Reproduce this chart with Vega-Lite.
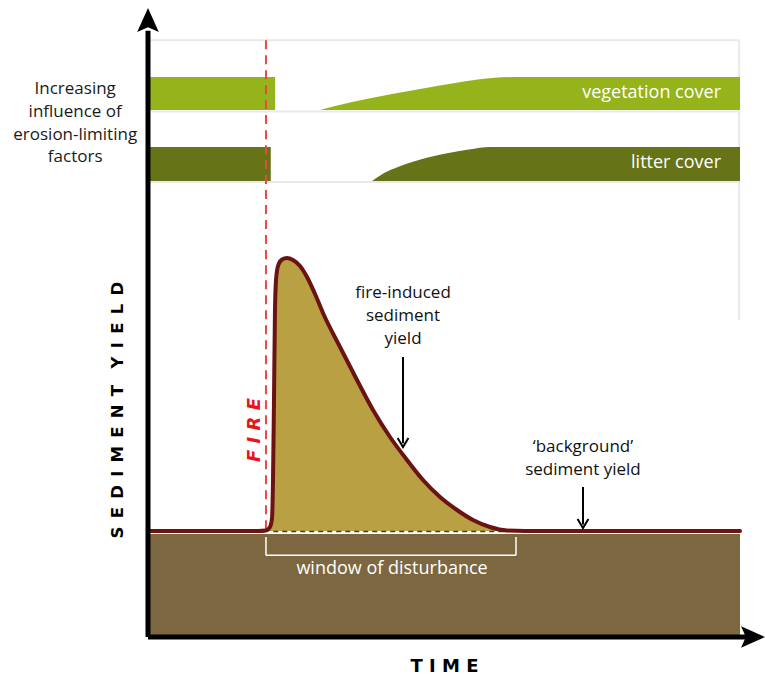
{
  "$schema": "https://vega.github.io/schema/vega-lite/v6.json",
  "width": 617,
  "height": 625,
  "autosize": {"type": "none"},
  "padding": {"left": 148, "top": 12, "right": 0, "bottom": 40},
  "background": "white",
  "config": {"view": {"stroke": null}},
  "datasets": {
    "curve": [
      {"t": 0, "v": 16.96}, {"t": 17.83, "v": 16.96}, {"t": 19.12, "v": 17.04}, {"t": 19.77, "v": 17.6},
      {"t": 20.1, "v": 19.04}, {"t": 20.26, "v": 25.12}, {"t": 20.42, "v": 37.92}, {"t": 20.58, "v": 52.32},
      {"t": 20.75, "v": 57.12}, {"t": 21.07, "v": 59.36}, {"t": 21.72, "v": 60.4}, {"t": 22.53, "v": 60.64},
      {"t": 23.5, "v": 60.32}, {"t": 24.64, "v": 59.36}, {"t": 25.77, "v": 57.6}, {"t": 27.07, "v": 54.88},
      {"t": 28.36, "v": 51.84}, {"t": 31.12, "v": 46.4}, {"t": 33.87, "v": 41.12}, {"t": 36.47, "v": 36.32},
      {"t": 39.22, "v": 32.0}, {"t": 41.98, "v": 28.32}, {"t": 44.57, "v": 25.12}, {"t": 47.33, "v": 22.4},
      {"t": 50.08, "v": 20.32}, {"t": 52.67, "v": 18.72}, {"t": 55.43, "v": 17.6}, {"t": 58.18, "v": 17.04},
      {"t": 61.1, "v": 16.96}, {"t": 95.95, "v": 16.96}
    ],
    "veg": [
      {"seg": "pre", "t": 0, "v": 89.6}, {"seg": "pre", "t": 20.6, "v": 89.6},
      {"seg": "post", "t": 27.9, "v": 84.32}, {"seg": "post", "t": 30.5, "v": 85.0}, {"seg": "post", "t": 35.0, "v": 86.0},
      {"seg": "post", "t": 44.1, "v": 87.7}, {"seg": "post", "t": 50.0, "v": 88.7}, {"seg": "post", "t": 55.8, "v": 89.45},
      {"seg": "post", "t": 60.0, "v": 89.6}, {"seg": "post", "t": 95.95, "v": 89.6}
    ],
    "litter": [
      {"seg": "pre", "t": 0, "v": 78.4}, {"seg": "pre", "t": 19.9, "v": 78.4},
      {"seg": "post", "t": 36.3, "v": 72.96}, {"seg": "post", "t": 38.2, "v": 74.2}, {"seg": "post", "t": 40.5, "v": 75.2},
      {"seg": "post", "t": 44.3, "v": 76.45}, {"seg": "post", "t": 48.5, "v": 77.4}, {"seg": "post", "t": 52.0, "v": 78.0},
      {"seg": "post", "t": 55.5, "v": 78.4}, {"seg": "post", "t": 95.95, "v": 78.4}
    ]
  },
  "encoding": {
    "x": {"field": "t", "type": "quantitative", "scale": {"domain": [0, 100], "nice": false, "zero": false}, "axis": null},
    "y": {"field": "v", "type": "quantitative", "scale": {"domain": [0, 100], "nice": false, "zero": false}, "axis": null}
  },
  "layer": [
    {
      "data": {"values": [
        {"t": 0.3, "t2": 95.8, "v": 95.5, "v2": 95.5},
        {"t": 95.8, "t2": 95.8, "v": 95.5, "v2": 50.7},
        {"t": 0.3, "t2": 95.8, "v": 84.1, "v2": 84.1},
        {"t": 0.3, "t2": 95.8, "v": 72.8, "v2": 72.8}
      ]},
      "mark": {"type": "rule", "color": "#e9e9e9", "strokeWidth": 2},
      "encoding": {"x2": {"field": "t2"}, "y2": {"field": "v2"}}
    },
    {
      "data": {"name": "veg"},
      "mark": {"type": "area", "color": "#95b31b", "interpolate": "monotone"},
      "encoding": {"detail": {"field": "seg"}, "y2": {"datum": 84.32}}
    },
    {
      "data": {"name": "litter"},
      "mark": {"type": "area", "color": "#667316", "interpolate": "monotone"},
      "encoding": {"detail": {"field": "seg"}, "y2": {"datum": 72.96}}
    },
    {
      "data": {"values": [{"t": 0, "t2": 95.95, "v": 0, "v2": 16.5}]},
      "mark": {"type": "rect", "color": "#7c6741"},
      "encoding": {"x2": {"field": "t2"}, "y2": {"field": "v2"}}
    },
    {
      "data": {"name": "curve"},
      "mark": {"type": "area", "color": "#b9a043", "interpolate": "monotone"},
      "encoding": {"y2": {"datum": 16.96}}
    },
    {
      "data": {"values": [{"t": 20.3, "t2": 57.5, "v": 16.9}]},
      "mark": {"type": "rule", "color": "#4a3a20", "strokeDash": [5, 4], "strokeWidth": 1.5},
      "encoding": {"x2": {"field": "t2"}}
    },
    {
      "data": {"values": [{"t": 19.12, "v": 95.5, "v2": 17.1}]},
      "mark": {"type": "rule", "color": "#e84a3f", "strokeDash": [9, 6], "strokeWidth": 2},
      "encoding": {"y2": {"field": "v2"}}
    },
    {
      "data": {"name": "curve"},
      "mark": {"type": "line", "color": "#6b1212", "strokeWidth": 4, "interpolate": "monotone", "strokeJoin": "round", "strokeCap": "round"},
      "encoding": {}
    },
    {
      "data": {"values": [
        {"t": 19.12, "t2": 19.12, "v": 16.0, "v2": 13.1},
        {"t": 59.64, "t2": 59.64, "v": 16.0, "v2": 13.1},
        {"t": 19.12, "t2": 59.64, "v": 13.1, "v2": 13.1}
      ]},
      "mark": {"type": "rule", "color": "white", "strokeWidth": 1.5},
      "encoding": {"x2": {"field": "t2"}, "y2": {"field": "v2"}}
    },
    {
      "data": {"values": [{"t": 41.33, "v": 44.8, "v2": 31.0}, {"t": 70.5, "v": 24.0, "v2": 18.0}]},
      "mark": {"type": "rule", "color": "black", "strokeWidth": 2},
      "encoding": {"y2": {"field": "v2"}}
    },
    {
      "data": {"values": [{"t": 41.33, "v": 30.4}, {"t": 70.5, "v": 17.44}]},
      "mark": {"type": "point", "shape": "M-0.6,-1L0,0L0.6,-1", "filled": false, "color": "black", "strokeWidth": 2, "size": 324, "opacity": 1}
    },
    {
      "data": {"values": [{"t": 0, "t2": 0, "v": 0, "v2": 97.0}, {"t": 0, "t2": 97.9, "v": 0, "v2": 0}]},
      "mark": {"type": "rule", "color": "black", "strokeWidth": 5},
      "encoding": {"x2": {"field": "t2"}, "y2": {"field": "v2"}}
    },
    {
      "data": {"values": [{"t": 0, "v": 98.72}]},
      "mark": {"type": "point", "shape": "M0,-1L0.9,1L0,0.6L-0.9,1Z", "filled": true, "color": "black", "strokeWidth": 0, "size": 576, "opacity": 1}
    },
    {
      "data": {"values": [{"t": 98.06, "v": 0}]},
      "mark": {"type": "point", "shape": "M1,0L-1,0.9L-0.6,0L-1,-0.9Z", "filled": true, "color": "black", "strokeWidth": 0, "size": 576, "opacity": 1}
    },
    {
      "data": {"values": [
        {"t": -11.8, "v": 87.68, "label": "Increasing"},
        {"t": -11.8, "v": 84.08, "label": "influence of"},
        {"t": -11.8, "v": 80.4, "label": "erosion-limiting"},
        {"t": -11.8, "v": 76.8, "label": "factors"}
      ]},
      "mark": {"type": "text", "font": "Open Sans", "fontSize": 17, "color": "#1a1a1a", "align": "center", "baseline": "middle"},
      "encoding": {"text": {"field": "label"}}
    },
    {
      "data": {"values": [
        {"t": 92.87, "v": 87.04, "label": "vegetation cover"},
        {"t": 92.87, "v": 75.84, "label": "litter cover"}
      ]},
      "mark": {"type": "text", "font": "Open Sans", "fontSize": 18, "color": "white", "align": "right", "baseline": "middle"},
      "encoding": {"text": {"field": "label"}}
    },
    {
      "data": {"values": [
        {"t": 41.33, "v": 55.04, "label": "fire-induced"},
        {"t": 41.33, "v": 51.36, "label": "sediment"},
        {"t": 41.33, "v": 47.68, "label": "yield"},
        {"t": 70.5, "v": 30.4, "label": "‘background’"},
        {"t": 70.5, "v": 26.8, "label": "sediment yield"}
      ]},
      "mark": {"type": "text", "font": "Open Sans", "fontSize": 17, "color": "#111111", "align": "center", "baseline": "middle"},
      "encoding": {"text": {"field": "label"}}
    },
    {
      "data": {"values": [{"t": 39.55, "v": 10.88, "label": "window of disturbance"}]},
      "mark": {"type": "text", "font": "Open Sans", "fontSize": 18, "color": "white", "align": "center", "baseline": "middle"},
      "encoding": {"text": {"field": "label"}}
    },
    {
      "data": {"values": [{"t": 17.34, "v": 33.12, "label": "F I R E"}]},
      "mark": {"type": "text", "font": "DejaVu Sans", "fontSize": 18, "fontWeight": "bold", "fontStyle": "italic", "color": "#e8141c", "align": "center", "baseline": "middle", "angle": 270},
      "encoding": {"text": {"field": "label"}}
    },
    {
      "data": {"values": [{"t": -4.86, "v": 36.3, "label": "S\u2002E\u2002D\u2002I\u2002M\u2002E\u2002N\u2002T\u2002\u2002Y\u2002I\u2002E\u2002L\u2002D"}]},
      "mark": {"type": "text", "font": "DejaVu Sans", "fontSize": 16.5, "fontWeight": "bold", "color": "black", "align": "center", "baseline": "middle", "angle": 270},
      "encoding": {"text": {"field": "label"}}
    },
    {
      "data": {"values": [{"t": 48.05, "v": -4.8, "label": "T I M E"}]},
      "mark": {"type": "text", "font": "DejaVu Sans", "fontSize": 18, "fontWeight": "bold", "color": "black", "align": "center", "baseline": "middle"},
      "encoding": {"text": {"field": "label"}}
    }
  ]
}
